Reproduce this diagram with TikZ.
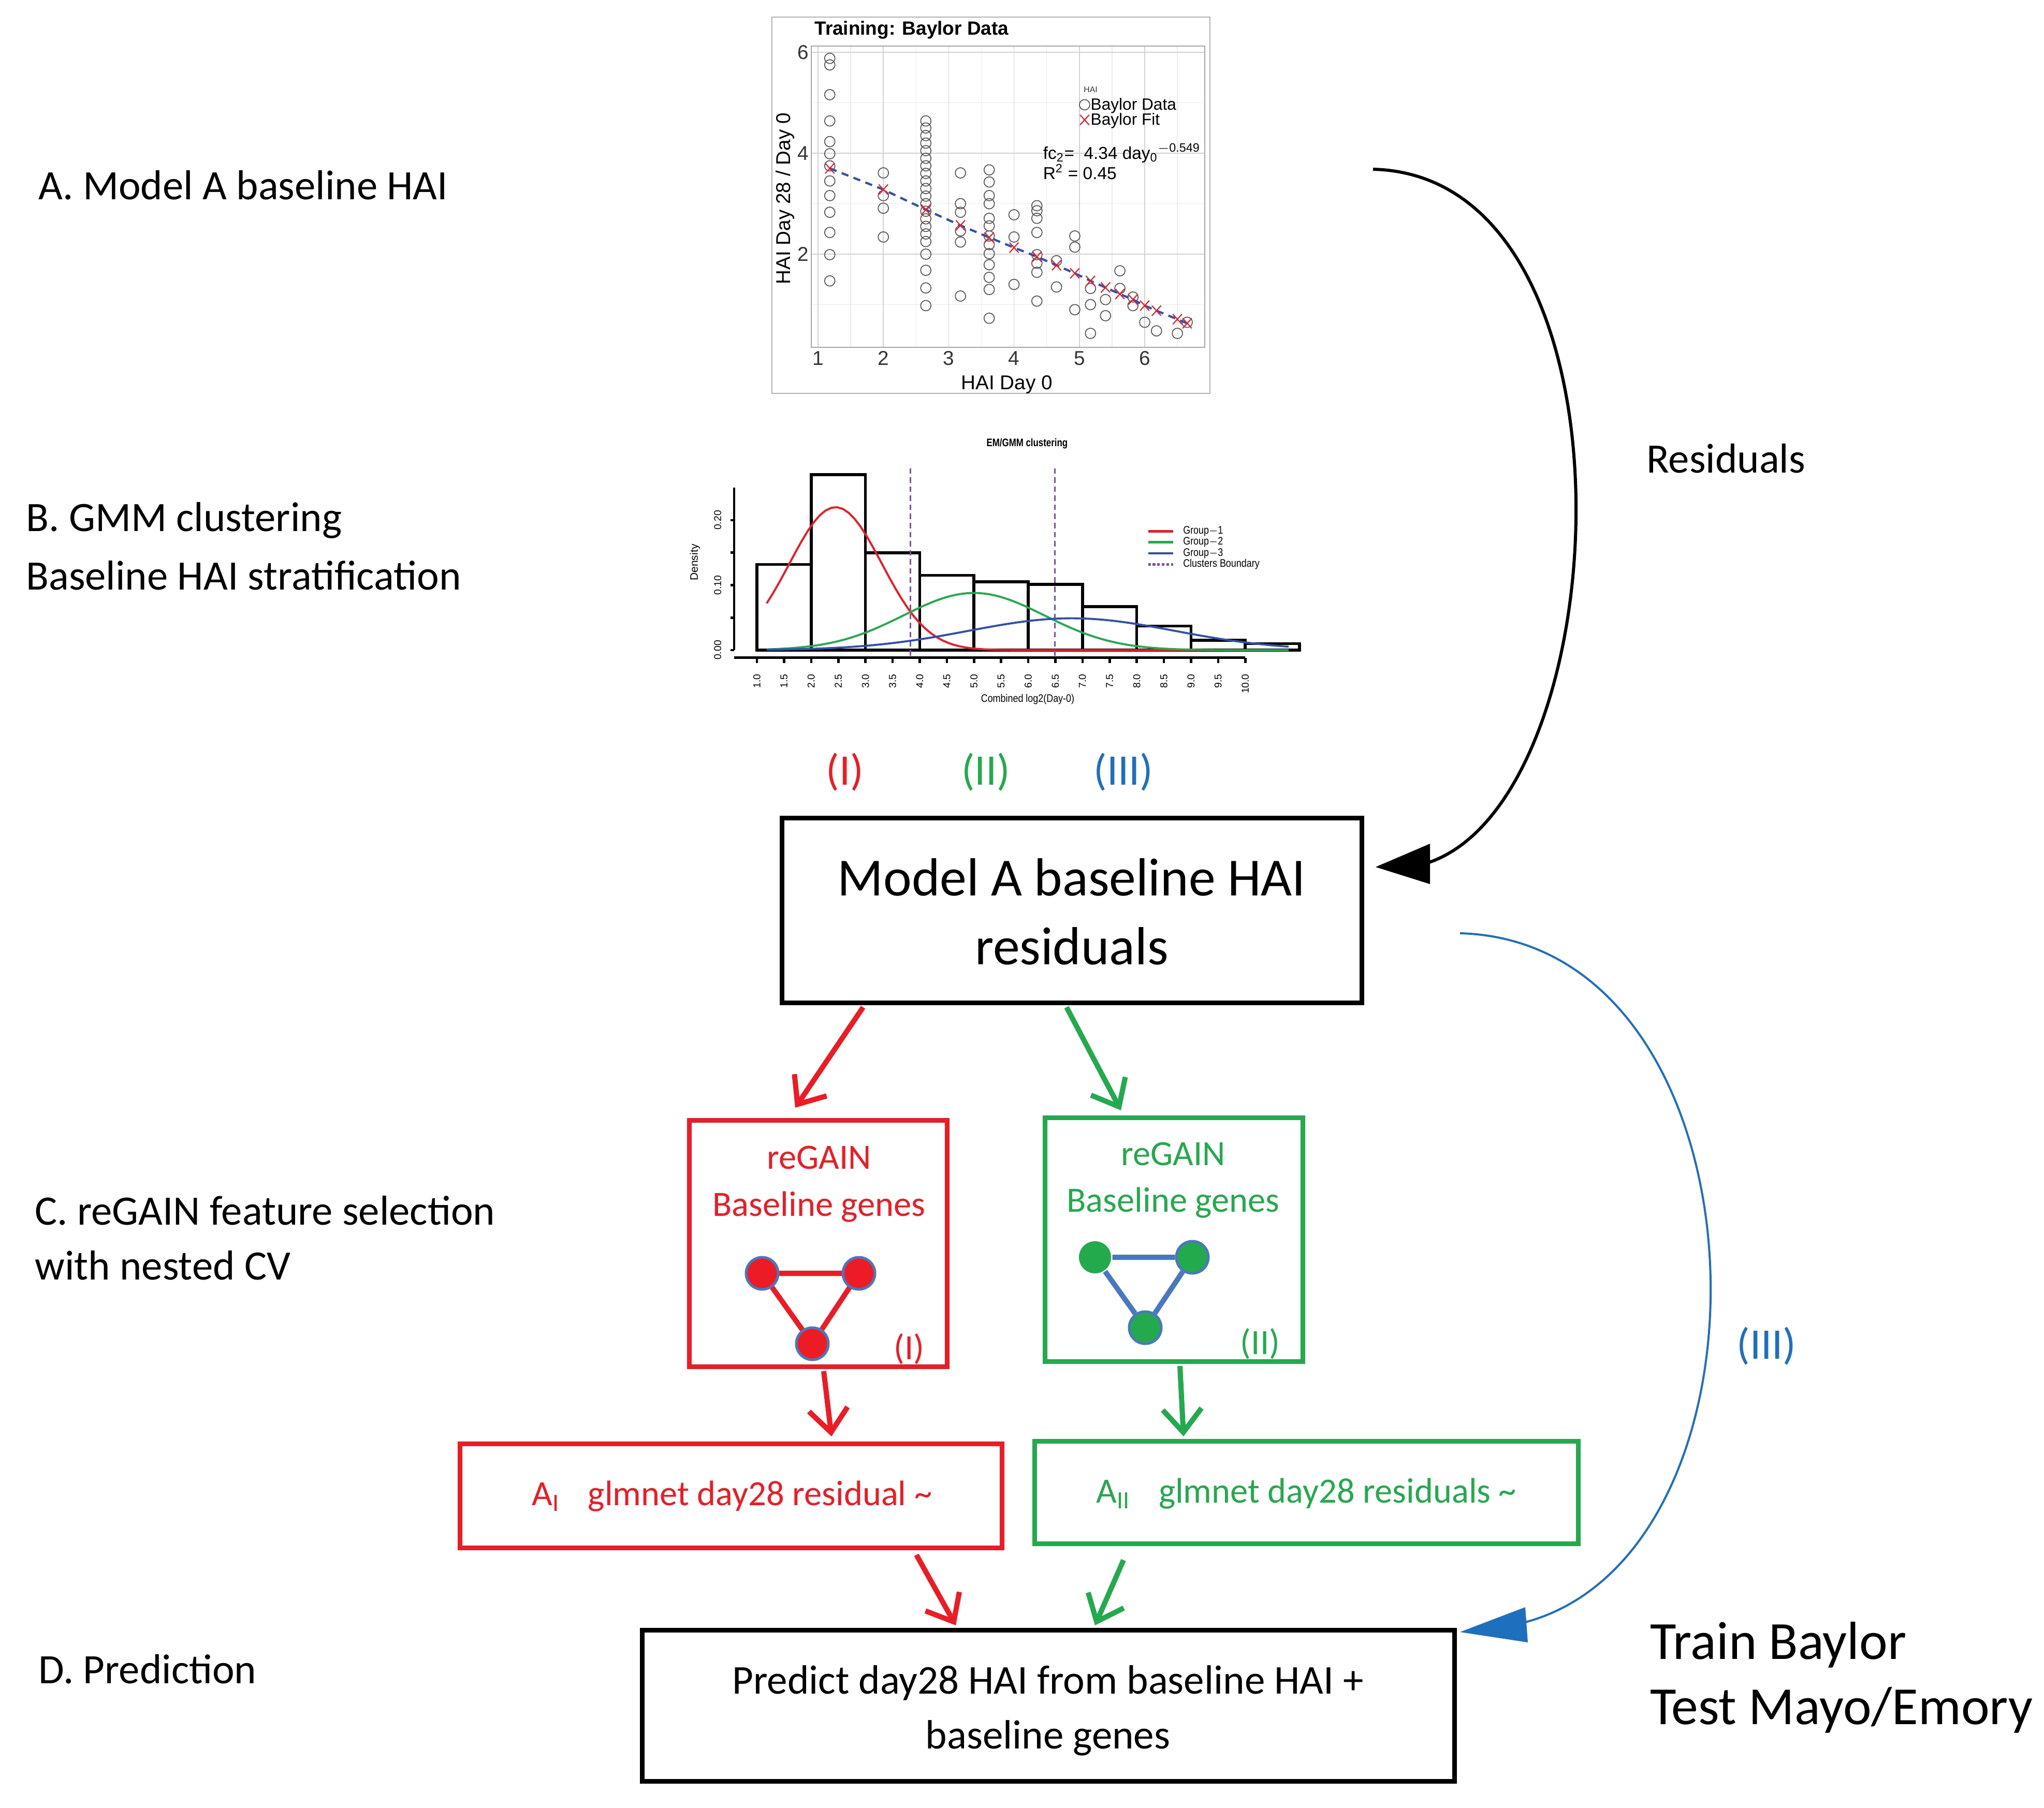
\documentclass[tikz,border=0pt]{standalone}
\usepackage{fontspec}
\setmainfont{Carlito}
\newfontfamily\plotfont{Liberation Sans}
\usetikzlibrary{arrows.meta}
\definecolor{cred}{HTML}{ED1C24}
\definecolor{cgreen}{HTML}{22AA4C}
\definecolor{cblue}{HTML}{1F6FBF}
\definecolor{nblue}{HTML}{4A78C0}
\definecolor{gpurple}{HTML}{8050A0}
\definecolor{fitblue}{HTML}{3050B0}
\begin{document}
\begin{tikzpicture}[
  lbl/.style={anchor=west,font=\fontsize{23}{27}\selectfont,align=left},
  box/.style={draw,line width=0.09cm,inner sep=0pt},
  arr/.style={line width=0.1cm,-{Straight Barb[length=0.45cm,width=0.75cm,line width=0.1cm]}},
  dot/.style={draw=gray!70!black,line width=0.5pt,circle,inner sep=0pt,minimum size=0.2cm},
  xm/.style={cred,line width=0.6pt},
  gnode/.style={circle,draw=nblue,line width=0.05cm,minimum size=0.62cm,inner sep=0pt},
  tk/.style={font=\plotfont\fontsize{5.5}{6}\selectfont,rotate=90,anchor=east}
]
\useasboundingbox (0,0) rectangle (39.48,-34.92);

% ---------- left labels ----------
\node[lbl] (la) at (0.62,-3.58) {A. Model A baseline HAI};
\node[lbl] (lb1) at (0.38,-10.05) {B. GMM clustering};
\node[lbl] (lb2) at (0.38,-11.12) {Baseline HAI stratification};
\node[lbl] (lc1) at (0.55,-23.39) {C. reGAIN feature selection};
\node[lbl] (lc2) at (0.55,-24.45) {with nested CV};
\node[lbl] (ld) at (0.62,-32.25) {D. Prediction};
\node[lbl] (res) at (31.68,-8.86) {Residuals};
\node[lbl,font=\fontsize{29.5}{34}\selectfont] (tb) at (31.75,-31.78) {Train Baylor};
\node[lbl,font=\fontsize{29.5}{34}\selectfont] (tm) at (31.75,-33.04) {Test Mayo/Emory};

% ---------- scatter plot ----------
\begin{scope}[shift={(14.538,-6.86)},x=1.262cm,y=0.975cm,font=\plotfont]
  \draw[gray!60,line width=0.6pt] (0.295,-0.76) rectangle (7.0,6.70);
  \foreach \v in {1.5,2.5,...,6.5} \draw[gray!15,line width=0.4pt] (\v,0.154) -- (\v,6.12);
  \foreach \v in {1,3,5} \draw[gray!15,line width=0.4pt] (0.897,\v) -- (6.92,\v);
  \foreach \v in {1,...,6} \draw[gray!35,line width=0.5pt] (\v,0.154) -- (\v,6.12);
  \foreach \v in {2,4,6} \draw[gray!35,line width=0.5pt] (0.897,\v) -- (6.92,\v);
  \draw[gray!70,line width=0.6pt] (0.897,0.154) rectangle (6.92,6.12);
  \foreach \v in {1,...,6} \node[gray!40!black,font=\plotfont\fontsize{11}{12}\selectfont,anchor=north,inner sep=1pt] at (\v,0.12) {\v};
  \foreach \v in {2,4,6} \node[gray!40!black,font=\plotfont\fontsize{11}{12}\selectfont,anchor=east,inner sep=1pt] at (0.89,\v) {\v};
  \node[font=\plotfont\bfseries\fontsize{10.5}{12}\selectfont,anchor=west] (stitle) at (0.85,6.44) {Training: Baylor Data};
  \node[font=\plotfont\fontsize{11}{12}\selectfont] (sx) at (3.89,-0.58) {HAI Day 0};
  \node[font=\plotfont\fontsize{11}{12}\selectfont,rotate=90] (sy) at (0.50,3.1) {HAI Day 28 / Day 0};
  \foreach \y in {5.88,5.75,5.16,4.64,4.23,3.99,3.75,3.45,3.16,2.83,2.43,1.99,1.47} \node[dot] at (1.18,\y) {};
  \foreach \y in {3.61,3.16,2.91,2.34} \node[dot] at (2.0,\y) {};
  \foreach \y in {4.64,4.5,4.35,4.2,4.05,3.9,3.75,3.6,3.45,3.3,3.15,3.0,2.85,2.7,2.55,2.4,2.25,2.0,1.68,1.33,0.98} \node[dot] at (2.65,\y) {};
  \foreach \y in {3.61,3.0,2.83,2.46,2.24,1.17} \node[dot] at (3.18,\y) {};
  \foreach \y in {3.67,3.43,3.16,3.0,2.71,2.56,2.36,2.19,2.01,1.79,1.54,1.3,0.73} \node[dot] at (3.62,\y) {};
  \foreach \y in {2.78,2.34,1.4} \node[dot] at (4.0,\y) {};
  \foreach \y in {2.96,2.86,2.71,2.43,1.99,1.82,1.64,1.07} \node[dot] at (4.35,\y) {};
  \foreach \y in {1.87,1.35} \node[dot] at (4.65,\y) {};
  \foreach \y in {2.36,2.14,0.9} \node[dot] at (4.93,\y) {};
  \foreach \y in {1.32,1.0,0.43} \node[dot] at (5.17,\y) {};
  \foreach \y in {1.1,0.78} \node[dot] at (5.4,\y) {};
  \foreach \y in {1.67,1.32} \node[dot] at (5.62,\y) {};
  \foreach \y in {1.15,0.98} \node[dot] at (5.82,\y) {};
  \foreach \p in {(6.0,0.65),(6.18,0.48),(6.5,0.43),(6.65,0.65)} \node[dot] at \p {};
  \draw[fitblue,line width=1.2pt,dash pattern=on 4pt off 3pt] (1.18,3.7) -- (2,3.28) -- (2.65,2.88) -- (3.18,2.57) -- (3.62,2.33) -- (4,2.13) -- (4.35,1.95) -- (4.65,1.78) -- (4.93,1.62) -- (5.17,1.47) -- (5.4,1.34) -- (5.62,1.21) -- (5.82,1.1) -- (6.0,0.98) -- (6.18,0.88) -- (6.5,0.71) -- (6.65,0.63);
  \foreach \p in {(1.18,3.7),(2,3.28),(2.65,2.88),(3.18,2.57),(3.62,2.33),(4,2.13),(4.35,1.95),(4.65,1.78),(4.93,1.62),(5.17,1.47),(5.4,1.34),(5.62,1.21),(5.82,1.1),(6.0,0.98),(6.18,0.88),(6.5,0.71),(6.65,0.63)}
    \draw[xm] \p ++(-0.07,-0.1) -- ++(0.14,0.2) \p ++(-0.07,0.1) -- ++(0.14,-0.2);
  % legend
  \node[font=\plotfont\fontsize{4.5}{5}\selectfont,anchor=west,gray!40!black] (lhai) at (4.97,5.26) {HAI};
  \node[dot] (ld1) at (5.08,4.96) {};
  \draw[xm] (5.01,4.56) -- (5.15,4.76) (5.01,4.76) -- (5.15,4.56);
  \node[font=\plotfont\fontsize{9}{10}\selectfont,anchor=west,inner sep=1pt] (lbd) at (5.14,4.94) {Baylor Data};
  \node[font=\plotfont\fontsize{9}{10}\selectfont,anchor=west,inner sep=1pt] (lbf) at (5.14,4.64) {Baylor Fit};
  \node[font=\plotfont\fontsize{9.5}{10}\selectfont,anchor=west,inner sep=0pt] (fc) at (4.44,4.0) {fc\textsubscript{2}=\ \ 4.34 day\textsubscript{0}\textsuperscript{$-$0.549}};
  \node[font=\plotfont\fontsize{9.5}{10}\selectfont,anchor=west,inner sep=0pt] (r2) at (4.44,3.63) {R\textsuperscript{2} = 0.45};
\end{scope}

% ---------- histogram ----------
\begin{scope}[shift={(13.572,-12.56)},x=1.048cm,y=12.55cm]
  \node[font=\plotfont\bfseries\fontsize{6}{7}\selectfont,xscale=0.8] (htitle) at (5.98,0.318) {EM/GMM clustering};
  \foreach \a/\h in {1/0.132,2/0.27,3/0.15,4/0.115,5/0.105,6/0.101,7/0.067,8/0.037,9/0.015,10/0.01}
    \draw[line width=1.6pt] (\a,0) rectangle ++(1,\h);
  \draw[line width=1.8pt] (1,0) -- (11,0);
  \draw[line width=1.3pt] (0.58,0) -- (0.58,0.25);
  \foreach \t in {0,0.05,...,0.25} \draw[line width=1.3pt] (0.58,\t) -- ++(-0.07,0);
  \foreach \t/\l in {0/0.00,0.1/0.10,0.2/0.20} \node[font=\plotfont\fontsize{5.5}{6}\selectfont,rotate=90,anchor=south] at (0.46,\t) {\l};
  \node[font=\plotfont\fontsize{6}{7}\selectfont,rotate=90] (hy) at (-0.14,0.135) {Density};
  \draw[line width=1.3pt] (0.58,-0.0117) -- (10,-0.0117);
  \foreach \v/\l in {1/1.0,1.5/1.5,2/2.0,2.5/2.5,3/3.0,3.5/3.5,4/4.0,4.5/4.5,5/5.0,5.5/5.5,6/6.0,6.5/6.5,7/7.0,7.5/7.5,8/8.0,8.5/8.5,9/9.0,9.5/9.5,10/10.0} {
    \draw[line width=1.3pt] (\v,-0.0117) -- ++(0,-0.008);
    \node[tk] at (\v,-0.027) {\l};
  }
  \node[font=\plotfont\fontsize{6}{7}\selectfont,xscale=0.85] (hx) at (5.99,-0.076) {Combined log2(Day-0)};
  \draw[gpurple,line width=0.9pt,dash pattern=on 3pt off 2pt] (3.83,0.28) -- (3.83,-0.013);
  \draw[gpurple,line width=0.9pt,dash pattern=on 3pt off 2pt] (6.49,0.28) -- (6.49,-0.013);
  \draw[cred,line width=1.1pt,domain=1.18:10.8,samples=90] plot (\x,{0.22*exp(-((\x-2.45)*(\x-2.45))/(2*0.85*0.85))});
  \draw[cgreen,line width=1.1pt,domain=1.18:10.8,samples=90] plot (\x,{0.088*exp(-((\x-5.0)*(\x-5.0))/(2*1.3*1.3))});
  \draw[fitblue,line width=1.1pt,domain=1.18:10.8,samples=90] plot (\x,{0.049*exp(-((\x-6.8)*(\x-6.8))/(2*1.9*1.9))});
  \foreach \c/\yy/\t in {cred/0.183/Group$-$1,cgreen/0.166/Group$-$2,fitblue/0.149/Group$-$3}{
    \draw[\c,line width=1.3pt] (8.21,\yy) -- (8.67,\yy);
    \node[font=\plotfont\fontsize{6}{7}\selectfont,anchor=west,inner sep=0pt,xscale=0.85] at (8.85,\yy) {\t};
  }
  \draw[gpurple,line width=1.3pt,dash pattern=on 1.5pt off 1pt] (8.21,0.132) -- (8.67,0.132);
  \node[font=\plotfont\fontsize{6}{7}\selectfont,anchor=west,inner sep=0pt,xscale=0.85] at (8.85,0.132) {Clusters Boundary};
\end{scope}

% ---------- cluster labels ----------
\node[cred,font=\fontsize{24}{28}\selectfont] (c1) at (16.32,-14.91) {(I)};
\node[cgreen,font=\fontsize{24}{28}\selectfont] (c2) at (19.04,-14.91) {(II)};
\node[cblue,font=\fontsize{24}{28}\selectfont] (c3) at (21.70,-14.91) {(III)};

% ---------- boxes ----------
\node[box,minimum width=11.2cm,minimum height=3.57cm] (mbox) at (20.70,-17.585) {};
\node[font=\fontsize{29.5}{34}\selectfont] (mt1) at (20.70,-16.95) {Model A baseline HAI};
\node[font=\fontsize{29.5}{34}\selectfont] (mt2) at (20.70,-18.28) {residuals};

\node[box,draw=cred,minimum width=4.98cm,minimum height=4.76cm] (rbox) at (15.80,-24.02) {};
\node[cred,font=\fontsize{19.5}{23}\selectfont] (rt1) at (15.82,-22.36) {reGAIN};
\node[cred,font=\fontsize{19.5}{23}\selectfont] (rt2) at (15.82,-23.32) {Baseline genes};
\node[cred,font=\fontsize{19.5}{23}\selectfont] (rt3) at (17.56,-26.06) {(I)};

\node[box,draw=cgreen,minimum width=4.98cm,minimum height=4.71cm] (gbox) at (22.67,-23.945) {};
\node[cgreen,font=\fontsize{19.5}{23}\selectfont] (gt1) at (22.66,-22.29) {reGAIN};
\node[cgreen,font=\fontsize{19.5}{23}\selectfont] (gt2) at (22.66,-23.24) {Baseline genes};
\node[cgreen,font=\fontsize{19.5}{23}\selectfont] (gt3) at (24.34,-25.96) {(II)};

\node[box,draw=cred,minimum width=10.47cm,minimum height=2.01cm] (aibox) at (14.115,-28.895) {};
\node[cred,font=\fontsize{19.5}{23}\selectfont,anchor=west] (ait) at (10.15,-28.91) {A\textsubscript{I}\hspace{0.55cm}glmnet day28 residual \char`~};
\node[box,draw=cgreen,minimum width=10.5cm,minimum height=1.98cm] (aiibox) at (25.23,-28.83) {};
\node[cgreen,font=\fontsize{19.5}{23}\selectfont,anchor=west] (aiit) at (21.05,-28.86) {A\textsubscript{II}\hspace{0.55cm}glmnet day28 residuals \char`~};

\node[box,minimum width=15.69cm,minimum height=2.92cm] (pbox) at (20.245,-32.95) {};
\node[font=\fontsize{22.5}{27}\selectfont] (pt1) at (20.24,-32.51) {Predict day28 HAI from baseline HAI +};
\node[font=\fontsize{22.5}{27}\selectfont] (pt2) at (20.24,-33.58) {baseline genes};

% ---------- networks ----------
\coordinate (r1) at (14.72,-24.60);
\coordinate (r2) at (16.59,-24.60);
\coordinate (r3) at (15.69,-25.96);
\draw[cred,line width=0.1cm] (r1) -- (r2) -- (r3) -- cycle;
\node[gnode,fill=cred] (rn1) at (r1) {};
\node[gnode,fill=cred] (rn2) at (r2) {};
\node[gnode,fill=cred] (rn3) at (r3) {};

\node[gnode,fill=cgreen,draw=none] (g1) at (21.15,-24.29) {};
\node[gnode,fill=cgreen] (g2) at (23.03,-24.29) {};
\node[gnode,fill=cgreen] (g3) at (22.12,-25.65) {};
\draw[nblue,line width=0.1cm] (g1) -- (g2) (g2) -- (g3) (g3) -- (g1);

% ---------- arrows ----------
\coordinate (ra1) at (16.67,-19.46); \coordinate (rb1) at (15.36,-21.40);
\coordinate (ra2) at (15.91,-26.49); \coordinate (rb2) at (16.06,-27.75);
\coordinate (ra3) at (17.70,-30.04); \coordinate (rb3) at (18.46,-31.40);
\coordinate (ga1) at (20.60,-19.46); \coordinate (gb1) at (21.65,-21.45);
\coordinate (ga2) at (22.79,-26.39); \coordinate (gb2) at (22.86,-27.75);
\coordinate (ga3) at (21.70,-30.14); \coordinate (gb3) at (21.15,-31.40);
\draw[arr,cred] (ra1) -- (rb1);
\draw[arr,cred] (ra2) -- (rb2);
\draw[arr,cred] (ra3) -- (rb3);
\draw[arr,cgreen] (ga1) -- (gb1);
\draw[arr,cgreen] (ga2) -- (gb2);
\draw[arr,cgreen] (ga3) -- (gb3);

% black residual curve
\coordinate (ks) at (26.52,-3.27);
\coordinate (ke) at (27.40,-16.72);
\coordinate (kt) at (26.57,-16.75);
\draw[line width=0.06cm] (ks) .. controls (31.9,-3.4) and (31.3,-15.8) .. (ke);
\fill (kt) -- (27.62,-16.30) -- (27.62,-17.08) -- cycle;

% blue (III) curve
\coordinate (bs) at (28.20,-18.03);
\coordinate (be) at (29.30,-31.38);
\coordinate (bt) at (28.20,-31.53);
\draw[cblue,line width=0.04cm] (bs) .. controls (34.3,-18.2) and (34.6,-30.2) .. (be);
\fill[cblue] (bt) -- (29.46,-31.05) -- (29.51,-31.73) -- cycle;
\node[cblue,font=\fontsize{24}{28}\selectfont] (c3b) at (34.12,-26.0) {(III)};
\end{tikzpicture}
\end{document}
